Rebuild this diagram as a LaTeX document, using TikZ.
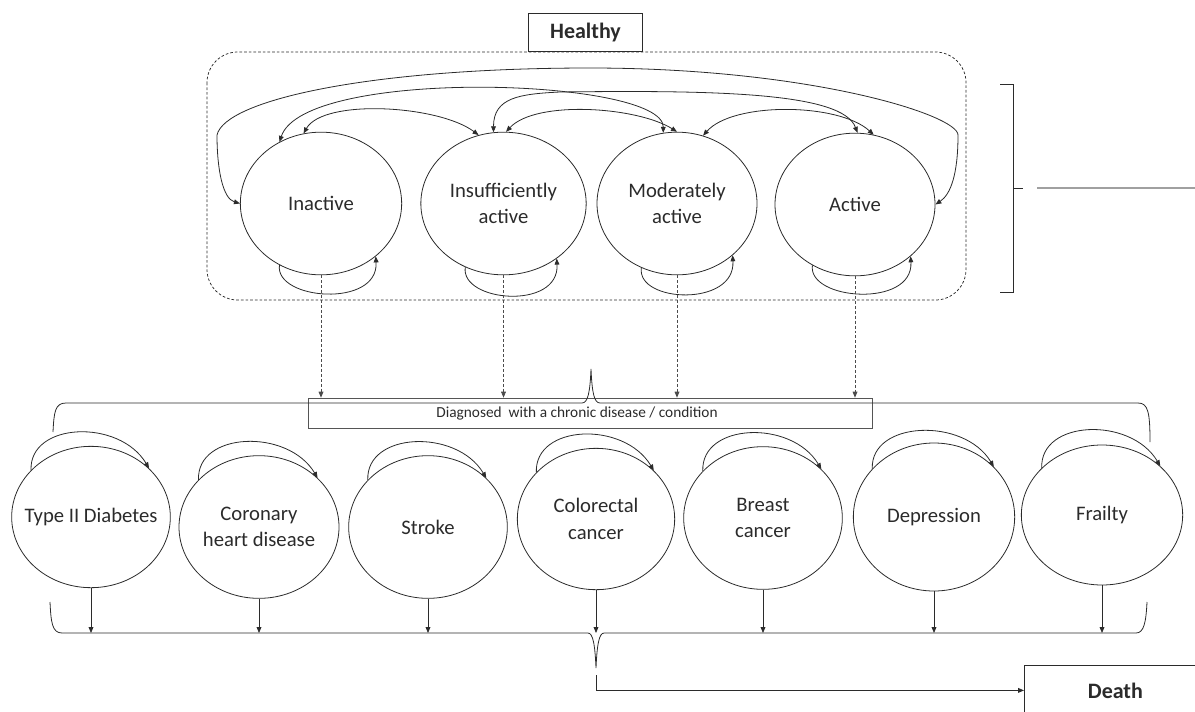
\documentclass[tikz,border=0pt]{standalone}
\usepackage{fontspec}
\setmainfont{Carlito}
\usetikzlibrary{arrows.meta,shapes.geometric}
\definecolor{ink}{HTML}{2B2B2B}
\definecolor{rule}{HTML}{555555}
\definecolor{haze}{HTML}{A0A0A0}
\tikzset{
  >={Triangle[length=4.5pt,width=3.6pt]},
  state/.style={
    ellipse, draw=ink, line width=0.6pt, inner sep=0pt,
    minimum width=121pt, minimum height=107pt
  },
  lbl/.style={font=\fontsize{15.5pt}{20pt}\selectfont, text=ink, align=center},
  titlebox/.style={
    draw=ink, line width=0.6pt, fill=white, text=ink, inner sep=0pt,
    font=\fontsize{16.5pt}{20pt}\selectfont\bfseries
  },
  group/.style={draw=ink, line width=0.55pt, dash pattern=on 2pt off 1.5pt, rounded corners=23pt},
  trans/.style={<->, draw=ink, line width=0.6pt},
  selfloop/.style={->, draw=ink, line width=0.6pt},
  onset/.style={->, draw=ink!85, line width=0.55pt, dash pattern=on 2.2pt off 1.5pt},
  flow/.style={->, draw=ink, line width=0.6pt},
  brace/.style={draw=ink, line width=0.6pt},
  hazeline/.style={draw=haze, line width=2.2pt},
  tag/.style={draw=rule, line width=0.5pt, inner sep=0pt},
  taglbl/.style={font=\fontsize{11.5pt}{13pt}\selectfont, text=ink, xshift=-9.75pt}
}

\begin{document}
\begin{tikzpicture}[x=0.75pt,y=-0.75pt]
  \useasboundingbox (0,0) rectangle (1195,711);
  \clip (0,0) rectangle (1195,711);

  % ---- Healthy states ----
  \draw[group] (207,52) rectangle (966,300);
  \node[titlebox, minimum width=86pt, minimum height=29pt] (healthy) at (585.5,32.5) {Healthy};

  \node[state, label={[lbl]center:Inactive}] (ina) at (321,203.5) {};
  \node[state, minimum width=124pt, label={[lbl]center:Insufficiently\\active}] (ins) at (503.5,203.5) {};
  \node[state, minimum width=120pt, label={[lbl]center:Moderately\\active}] (mod) at (677,203.5) {};
  \node[state, minimum width=120pt, label={[lbl]center:Active}] (act) at (855,204.5) {};

  % transitions between activity levels
  \draw[trans] (ina.180) .. controls +(-17,-5) and +(0,35) .. (217,135)
     .. controls +(8,-35) and +(-220,0) .. (590,68)
     .. controls +(220,0) and +(0,-20) .. (958,135)
     .. controls +(0,40) and +(15,-10) .. (act.0);
  \draw[trans] (ina.124) .. controls +(25,-75) and +(0,-55) .. (mod.101);
  \draw[trans] (ina.104) .. controls +(20,-35) and +(-40,-30) .. (ins.110);
  \draw[trans] (ins.98) .. controls +(0,-35) and +(-40,2) .. (560,92)
     .. controls +(160,-2) and +(-15,-40) .. (act.88);
  \draw[trans] (ins.88) .. controls +(30,-32) and +(-40,-25) .. (mod.90);
  \draw[trans] (mod.69) .. controls +(30,-34) and +(-35,-32) .. (act.75);

  % staying in the same level
  \draw[selfloop] (ina.236) .. controls +(-5,35) and +(3,52) .. (ina.316);
  \draw[selfloop] (ins.239) .. controls +(-5,35) and +(3,52) .. (ins.314);
  \draw[selfloop] (mod.241) .. controls +(-5,35) and +(3,52) .. (mod.317);
  \draw[selfloop] (act.235) .. controls +(-5,35) and +(3,52) .. (act.317);

  % ---- Diagnosis ----
  \node[tag, minimum width=423pt, minimum height=22.5pt,
        label={[taglbl]center:Diagnosed~ with a chronic disease / condition}] (diag) at (590,413) {};
  \draw[onset] (ina.south) -- (ina.south |- diag.north);
  \draw[onset] (ins.south) -- (ins.south |- diag.north);
  \draw[onset] (mod.south) -- (mod.south |- diag.north);
  \draw[onset] (act.south) -- (act.south |- diag.north);

  % right-hand bracket
  \draw[brace] (1000,84) -- (1013,84) -- (1013,292) -- (1000,292);
  \draw[brace] (1013,188) -- (1023,188);
  \coordinate (bk) at (1037,188);
  \coordinate (edge) at (1195,188);
  \draw[hazeline] (bk) -- (edge);

  % ---- Chronic conditions ----
  \draw[brace] (53,432) .. controls (54,412) and (55,403) .. (66,403) -- (582,403)
     .. controls (588,403) and (590,392) .. (591,369)
     .. controls (592,392) and (594,403) .. (600,403) -- (1138,403)
     .. controls (1148,403) and (1150,412) .. (1150,442);

  \node[state, minimum width=119pt, minimum height=106pt, label={[lbl]center:Type II Diabetes}] (t2d) at (91,517) {};
  \node[state, minimum width=120pt, minimum height=107pt, label={[lbl]center:Coronary\\heart disease}] (chd) at (259,527) {};
  \node[state, minimum width=119pt, minimum height=107pt, label={[lbl]center:Stroke}] (stk) at (428,527) {};
  \node[state, minimum width=118pt, minimum height=106pt, label={[lbl]center:Colorectal\\cancer}] (crc) at (596,519) {};
  \node[state, minimum width=119pt, minimum height=107pt, label={[lbl]center:Breast\\cancer}] (brc) at (763,518) {};
  \node[state, minimum width=121pt, minimum height=111pt, label={[lbl]center:Depression}] (dep) at (934,517) {};
  \node[state, minimum width=121pt, minimum height=105pt, label={[lbl]center:Frailty}] (fra) at (1102,515) {};

  \draw[selfloop] (t2d.142) .. controls +(-2,-48) and +(-30,-50) .. (t2d.40);
  \draw[selfloop] (chd.142) .. controls +(-2,-48) and +(-30,-50) .. (chd.40);
  \draw[selfloop] (stk.142) .. controls +(-2,-48) and +(-30,-50) .. (stk.40);
  \draw[selfloop] (crc.142) .. controls +(-2,-48) and +(-30,-50) .. (crc.40);
  \draw[selfloop] (brc.142) .. controls +(-2,-48) and +(-30,-50) .. (brc.40);
  \draw[selfloop] (dep.142) .. controls +(-2,-48) and +(-30,-50) .. (dep.40);
  \draw[selfloop] (fra.142) .. controls +(-2,-48) and +(-30,-50) .. (fra.40);

  % ---- Death ----
  \coordinate (bar) at (0,633);
  \draw[flow] (t2d.south) -- (t2d.south |- bar);
  \draw[flow] (chd.south) -- (chd.south |- bar);
  \draw[flow] (stk.south) -- (stk.south |- bar);
  \draw[flow] (crc.south) -- (crc.south |- bar);
  \draw[flow] (brc.south) -- (brc.south |- bar);
  \draw[flow] (dep.south) -- (dep.south |- bar);
  \draw[flow] (fra.south) -- (fra.south |- bar);

  \draw[brace] (50,602) .. controls (51,622) and (52,633) .. (62,633) -- (588,633)
     .. controls (593,633) and (595,645) .. (596,668)
     .. controls (597,645) and (599,633) .. (604,633) -- (1136,633)
     .. controls (1144,633) and (1146,622) .. (1147,602);

  \node[titlebox, minimum width=136.5pt, minimum height=37.5pt, anchor=north west] (death) at (1024,665) {Death};
  \coordinate (dstart) at (596,675);
  \draw[flow] (dstart) |- (death.west);
\end{tikzpicture}
\end{document}
